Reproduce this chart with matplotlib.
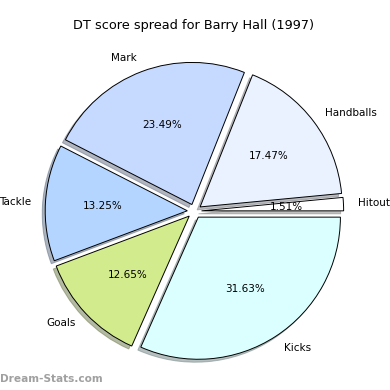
import matplotlib
matplotlib.use("Agg")
import matplotlib.pyplot as plt

labels = ["Hitout", "Handballs", "Mark", "Tackle", "Goals", "Kicks"]
values = [1.51, 17.47, 23.49, 13.25, 12.65, 31.63]
colors = ["#FFFFFF", "#EAF1FF", "#C6D9FF", "#B4D5FF", "#D2EB8C", "#DBFFFF"]
explode = [0.05, 0.05, 0.05, 0.05, 0.05, 0.05]

fig = plt.figure(figsize=(3.9, 3.9), dpi=100)
ax = fig.add_axes([0.043, 0.003, 0.911, 0.911])
wedges, texts, autotexts = ax.pie(values, labels=labels, colors=colors, explode=explode,
                                  autopct="%1.2f%%", startangle=0,
                                  shadow={"ox": -0.015, "oy": -0.015, "shade": 0.5},
                                  wedgeprops={"edgecolor": "black", "linewidth": 0.7},
                                  textprops={"fontsize": 7.5})
ax.set_aspect("equal")
fig.text(0.497, 0.935, "DT score spread for Barry Hall (1997)", ha="center", va="center", fontsize=9.3)
fig.text(0.0, 0.027, "Dream-Stats.com", ha="left", va="center", fontsize=7.6,
         color="#A0A0A0", fontweight="bold")
fig.savefig("out.png", dpi=100)
